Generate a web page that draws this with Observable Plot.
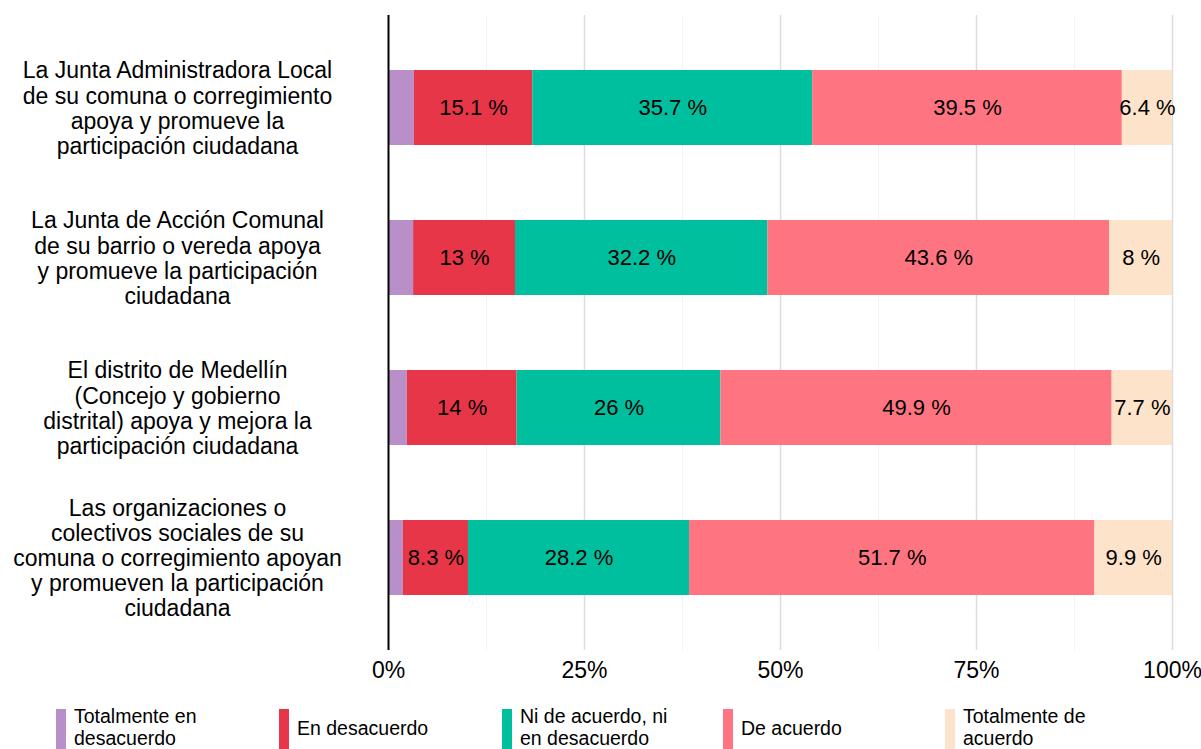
<!DOCTYPE html>
<html>
<head>
<meta charset="utf-8">
<script src="https://cdn.jsdelivr.net/npm/d3@7"></script>
<script src="https://cdn.jsdelivr.net/npm/@observablehq/plot@0.6"></script>
<style>
  body { margin: 0; background: #fff; font-family: "Liberation Sans", Arial, sans-serif; }
  #chart { width: 1201px; }
  .legend { position: relative; width: 1201px; height: 59px; }
  .item { position: absolute; top: 16px; display: flex; align-items: flex-start; }
  .sw { width: 10px; height: 41px; margin-right: 8px; margin-top: 3px; }
  .lab { font-size: 19.5px; line-height: 21.5px; color: #000; }
</style>
</head>
<body>
<div id="chart"></div>
<script>
const categories = [
  "La Junta Administradora Local\nde su comuna o corregimiento\napoya y promueve la\nparticipación ciudadana",
  "La Junta de Acción Comunal\nde su barrio o vereda apoya\ny promueve la participación\nciudadana",
  "El distrito de Medellín\n(Concejo y gobierno\ndistrital) apoya y mejora la\nparticipación ciudadana",
  "Las organizaciones o\ncolectivos sociales de su\ncomuna o corregimiento apoyan\ny promueven la participación\nciudadana"
];
const series = ["Totalmente en desacuerdo", "En desacuerdo", "Ni de acuerdo, ni en desacuerdo", "De acuerdo", "Totalmente de acuerdo"];
const legendLabels = ["Totalmente en\ndesacuerdo", "En desacuerdo", "Ni de acuerdo, ni\nen desacuerdo", "De acuerdo", "Totalmente de\nacuerdo"];
const colors = ["#b98fc9", "#e83649", "#00bf9e", "#fe7581", "#fde3ca"];
const totDesacuerdo = [3.3, 3.2, 2.4, 1.9];
const enDesacuerdo = [15.1, 13, 14, 8.3];
const niNi = [35.7, 32.2, 26, 28.2];
const deAcuerdo = [39.5, 43.6, 49.9, 51.7];
const totAcuerdo = [6.4, 8, 7.7, 9.9];
const xTicks = [0, 25, 50, 75, 100];
const xMinorTicks = [12.5, 37.5, 62.5, 87.5];

const valuesBySeries = [totDesacuerdo, enDesacuerdo, niNi, deAcuerdo, totAcuerdo];
const data = [];
categories.forEach((c, i) => {
  series.forEach((s, j) => {
    data.push({cat: c, series: s, value: valuesBySeries[j][i], labeled: j > 0});
  });
});

const font = "'Liberation Sans', Arial, sans-serif";

const plot = Plot.plot({
  width: 1201,
  height: 690,
  marginLeft: 388,
  marginRight: 29,
  marginTop: 15,
  marginBottom: 40,
  style: {fontFamily: font, fontSize: "23px", color: "#000", background: "#fff"},
  x: {domain: [0, 100], ticks: xTicks, tickFormat: d => d + "%", tickSize: 0, tickPadding: 11, label: null},
  y: {domain: categories, padding: 0.5, paddingOuter: 0.357, axis: null},
  color: {domain: series, range: colors},
  marks: [
    Plot.ruleX(xMinorTicks, {stroke: "#f3f3f3", strokeWidth: 1}),
    Plot.ruleX(xTicks.slice(1), {stroke: "#dcdcdc", strokeWidth: 1.5}),
    Plot.barX(data, Plot.stackX({x: "value", y: "cat", fill: "series", order: null, inset: 0})),
    Plot.text(data, Plot.stackX({
      x: "value", y: "cat", z: "series", order: null,
      text: d => d.labeled ? d.value + " %" : "",
      fill: "#000", fontSize: 22
    })),
    Plot.ruleX([0], {stroke: "#000", strokeWidth: 2}),
    Plot.text(categories, {
      y: d => d, text: d => d, frameAnchor: "left", dx: -211,
      textAnchor: "middle", lineHeight: 1.09, fontSize: 23, fill: "#000"
    })
  ]
});
document.getElementById("chart").appendChild(plot);

const legend = document.createElement("div");
legend.className = "legend";
const xs = [56, 279, 502, 723, 945];
series.forEach((s, i) => {
  const it = document.createElement("div");
  it.className = "item";
  it.style.left = xs[i] + "px";
  const sw = document.createElement("div");
  sw.className = "sw";
  sw.style.background = colors[i];
  const lab = document.createElement("div");
  lab.className = "lab";
  const lines = legendLabels[i].split("\n");
  if (lines.length === 1) lab.style.marginTop = "12px";
  lab.innerHTML = lines.join("<br>");
  it.appendChild(sw);
  it.appendChild(lab);
  legend.appendChild(it);
});
document.body.appendChild(legend);
</script>
</body>
</html>
